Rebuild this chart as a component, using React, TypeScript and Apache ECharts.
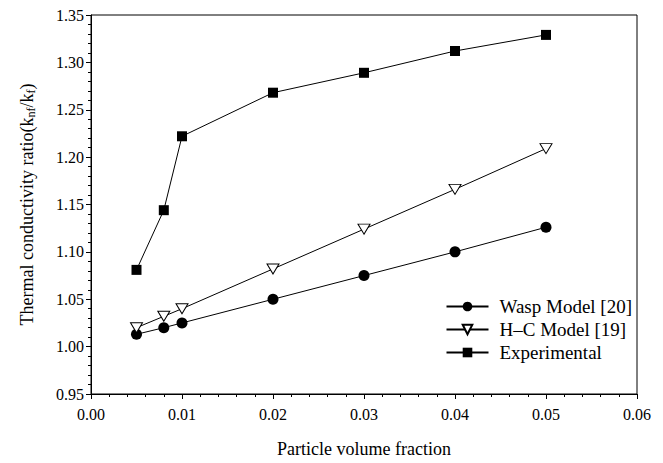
import React, { useEffect, useRef } from "react";
import * as echarts from "echarts";

const fractions = [0.005, 0.008, 0.01, 0.02, 0.03, 0.04, 0.05];
const waspValues = [1.013, 1.02, 1.025, 1.05, 1.075, 1.1, 1.126];
const hcValues = [1.02, 1.032, 1.04, 1.082, 1.124, 1.166, 1.209];
const expValues = [1.081, 1.144, 1.222, 1.268, 1.289, 1.312, 1.329];
const seriesNames = ["Wasp Model [20]", "H\u2013C Model [19]", "Experimental"];

const FONT = "Liberation Serif";

export default function App() {
  const ref = useRef<HTMLDivElement>(null);
  useEffect(() => {
    if (!ref.current) return;
    const chart = echarts.init(ref.current, undefined, { renderer: "svg" });
    const pair = (vals: number[]) => fractions.map((x, i) => [x, vals[i]]);
    const lineStyle = { color: "#000", width: 1 };
    chart.setOption({
      animation: false,
      textStyle: { fontFamily: FONT, color: "#000" },
      grid: {
        left: 91,
        right: 26,
        top: 15,
        bottom: 66,
        show: true,
        borderColor: "#000",
        borderWidth: 1,
      },
      legend: {
        right: 26,
        top: 292,
        orient: "vertical",
        itemWidth: 42,
        itemHeight: 12,
        itemGap: 4,
        textStyle: {
          fontFamily: FONT,
          fontSize: 19,
          color: "#000",
          padding: [0, 0, 0, 6],
        },
        data: seriesNames,
      },
      xAxis: {
        type: "value",
        min: 0,
        max: 0.06,
        interval: 0.01,
        axisLine: { show: true, lineStyle: { color: "#000", width: 1 } },
        axisTick: { show: true, length: 5, lineStyle: { color: "#000" } },
        minorTick: { show: true, splitNumber: 5, length: 3, lineStyle: { color: "#000" } },
        splitLine: { show: false },
        axisLabel: {
          fontFamily: FONT,
          fontSize: 16,
          color: "#000",
          margin: 12,
          formatter: (v: number) => v.toFixed(2),
        },
        name: "Particle volume fraction",
        nameLocation: "middle",
        nameGap: 46,
        nameTextStyle: { fontFamily: FONT, fontSize: 18, color: "#000" },
      },
      yAxis: {
        type: "value",
        min: 0.95,
        max: 1.35,
        interval: 0.05,
        axisLine: { show: true, lineStyle: { color: "#000", width: 1 } },
        axisTick: { show: true, length: 5, lineStyle: { color: "#000" } },
        minorTick: { show: true, splitNumber: 5, length: 3, lineStyle: { color: "#000" } },
        splitLine: { show: false },
        axisLabel: {
          fontFamily: FONT,
          fontSize: 16,
          color: "#000",
          margin: 7,
          formatter: (v: number) => v.toFixed(2),
        },
        name: "{main|Thermal conductivity ratio(k}{sub|nf}{main|/k}{sub|f}{main|)}",
        nameLocation: "middle",
        nameGap: 54,
        nameTextStyle: {
          fontFamily: FONT,
          fontSize: 18,
          color: "#000",
          rich: {
            main: { fontFamily: FONT, fontSize: 18, color: "#000" },
            sub: { fontFamily: FONT, fontSize: 12, color: "#000", verticalAlign: "bottom", padding: [8, 0, 0, 0] },
          },
        },
      },
      series: [
        {
          name: seriesNames[0],
          type: "line",
          data: pair(waspValues),
          symbol: "circle",
          symbolSize: 11,
          itemStyle: { color: "#000" },
          lineStyle,
        },
        {
          name: seriesNames[1],
          type: "line",
          data: pair(hcValues),
          symbol: "triangle",
          symbolRotate: 180,
          symbolSize: [12, 10],
          itemStyle: { color: "#fff", borderColor: "#000", borderWidth: 1 },
          lineStyle,
        },
        {
          name: seriesNames[2],
          type: "line",
          data: pair(expValues),
          symbol: "rect",
          symbolSize: 10,
          itemStyle: { color: "#000" },
          lineStyle,
        },
      ],
    });
    return () => chart.dispose();
  }, []);
  return <div ref={ref} style={{ width: 663, height: 463, position: "absolute", left: 0, top: 0 }} />;
}
